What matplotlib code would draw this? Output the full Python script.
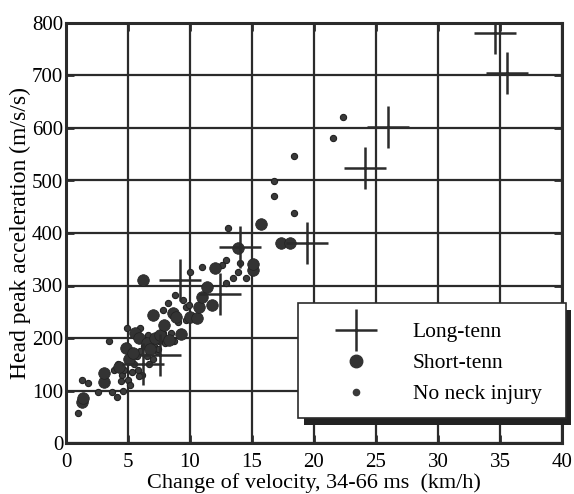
import matplotlib
matplotlib.use("Agg")
import matplotlib.pyplot as plt
from matplotlib.lines import Line2D
from matplotlib.patches import Rectangle

plt.rcParams['font.family'] = ['Liberation Serif', 'DejaVu Serif']

# long-term neck injury (crosses)
long_x = [6.2, 7.6, 9.2, 12.4, 14.0, 19.4, 24.1, 26.0, 34.6, 35.6]
long_y = [150, 168, 310, 283, 373, 381, 524, 602, 781, 705]

# short-term neck injury (large dots)
short_x = [1.3, 1.4, 3.1, 3.1, 4.3, 4.8, 5.1, 5.4, 5.6, 5.9, 6.2, 6.5,
           6.8, 7.0, 7.2, 7.6, 7.9, 8.3, 8.6, 8.9, 9.3, 10.0, 10.6, 10.7,
           11.0, 11.4, 11.8, 12.0, 13.9, 15.1, 15.1, 15.7, 17.3, 18.1]
short_y = [78, 86, 116, 133, 145, 181, 160, 171, 209, 200, 310, 190,
           180, 244, 200, 205, 225, 196, 247, 240, 208, 240, 238, 259,
           278, 297, 263, 333, 372, 330, 340, 417, 381, 381]

# no neck injury (small dots)
none_x = [1.0, 1.3, 1.8, 2.6, 3.5, 3.7, 4.1, 4.9, 3.9, 4.2, 4.5, 4.7,
          5.0, 5.3, 5.5, 5.7, 6.0, 6.3, 6.5, 6.8, 7.1, 7.3, 7.5, 7.8,
          8.0, 8.2, 8.8, 9.4, 9.7, 7.8, 10.0, 11.0, 12.9, 12.6, 12.9,
          13.5, 13.9, 14.0, 14.5, 13.1, 16.8, 16.8, 18.4, 18.4, 21.5,
          22.3, 4.6, 5.2, 6.1, 5.8, 6.7, 7.0, 8.5, 9.0, 9.7, 6.0, 4.4,
          5.9, 6.6, 7.4, 8.1, 8.7, 9.9]
none_y = [57, 120, 114, 97, 194, 97, 88, 219, 140, 150, 130, 140,
          120, 135, 150, 165, 175, 185, 165, 200, 185, 175, 195, 210,
          190, 267, 282, 272, 259, 253, 326, 335, 349, 339, 305,
          314, 326, 343, 314, 409, 499, 470, 547, 438, 581,
          621, 100, 110, 130, 140, 150, 160, 210, 230, 235, 220, 118,
          128, 205, 180, 200, 195, 262]

x_ticks = [0, 5, 10, 15, 20, 25, 30, 35, 40]
y_ticks = [0, 100, 200, 300, 400, 500, 600, 700, 800]

ink = '#2b2b2b'

fig = plt.figure(figsize=(5.74, 4.94), dpi=100)
ax = fig.add_axes([66 / 574, 51 / 494, 496 / 574, 420 / 494])

ax.set_xlim(0, 40)
ax.set_ylim(0, 800)
ax.set_xticks(x_ticks)
ax.set_yticks(y_ticks)
ax.grid(True, color=ink, linewidth=1.6)
ax.set_axisbelow(True)
for s in ax.spines.values():
    s.set_color(ink)
    s.set_linewidth(2.2)
ax.tick_params(direction='in', length=6, width=2, color=ink, labelsize=15,
               top=True, right=True)
ax.tick_params(axis='y', pad=2)
ax.tick_params(axis='x', pad=7)

ax.scatter(none_x, none_y, s=20, color='#3a3a3a', edgecolors='#222222',
           linewidths=0.8, zorder=3)
ax.scatter(short_x, short_y, s=70, color='#333333', edgecolors='#222222',
           linewidths=0.5, zorder=4)
ax.scatter(long_x, long_y, marker='+', s=900, color=ink, linewidths=1.8,
           zorder=5)

ax.set_xlabel('Change of velocity, 34-66 ms  (km/h)', fontsize=16, labelpad=1)
ax.set_ylabel('Head peak acceleration (m/s/s)', fontsize=17, labelpad=1)

# legend box with a heavy drop shadow
bx0, by0, bw, bh = 0.468, 0.06, 0.54, 0.273
ax.add_patch(Rectangle((bx0 + 0.011, by0 - 0.016), bw, bh,
                       transform=ax.transAxes, facecolor='#222222',
                       edgecolor='none', clip_on=False, zorder=6))
ax.add_patch(Rectangle((bx0, by0), bw, bh, transform=ax.transAxes,
                       facecolor='white', edgecolor=ink, linewidth=1.2,
                       clip_on=False, zorder=7))

handles = [
    Line2D([], [], marker='+', linestyle='none', markersize=30,
           markeredgewidth=1.8, color=ink),
    Line2D([], [], marker='o', linestyle='none', markersize=9, color='#333333'),
    Line2D([], [], marker='o', linestyle='none', markersize=4.5,
           color='#3a3a3a'),
]
labels = ['Long-tenn', 'Short-tenn', 'No neck injury']
leg = ax.legend(handles, labels, loc='center', bbox_to_anchor=(0.755, 0.19),
                frameon=False, fontsize=15.5, handlelength=1.5,
                handletextpad=1.9, labelspacing=0.5)
leg.set_zorder(8)

fig.savefig('out.png', dpi=100, facecolor='white')
